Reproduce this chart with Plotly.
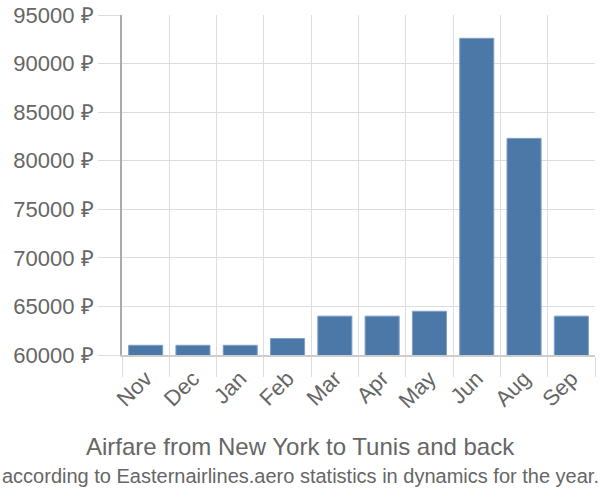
import plotly.graph_objects as go

months = ["Nov", "Dec", "Jan", "Feb", "Mar", "Apr", "May", "Jun", "Aug", "Sep"]
prices = [61000, 61000, 61000, 61700, 64000, 64000, 64500, 92600, 82300, 64000]
y_ticks = [60000, 65000, 70000, 75000, 80000, 85000, 90000, 95000]
y_labels = [f"{v} ₽" for v in y_ticks]

title = "Airfare from New York to Tunis and back"
subtitle = "according to Easternairlines.aero statistics in dynamics for the year."

fig = go.Figure(go.Bar(
    x=months, y=prices,
    marker=dict(color="#4c78a8", line=dict(color="#7f9fc6", width=1)),
    width=0.72,
))

font = "Liberation Sans, Arial, sans-serif"
fig.update_layout(
    width=600, height=500,
    margin=dict(l=122, r=5, t=15, b=145),
    paper_bgcolor="white", plot_bgcolor="white",
    showlegend=False,
    font=dict(family=font, color="#666666"),
    xaxis=dict(
        type="category", tickson="boundaries", automargin=False,
        showgrid=True, gridcolor="#dddddd", gridwidth=1,
        ticks="outside", ticklen=20, tickcolor="#dddddd",
        tickangle=-45, tickfont=dict(size=22, color="#666666"),
        showline=True, linecolor="#cccccc", linewidth=2,
        range=[-0.5, 9.5],
    ),
    yaxis=dict(
        range=[60000, 95000], automargin=False,
        tickvals=y_ticks, ticktext=y_labels,
        showgrid=True, gridcolor="#dddddd", gridwidth=1,
        ticks="outside", ticklen=22, tickcolor="#dddddd",
        tickfont=dict(size=22, color="#666666"),
        showline=True, linecolor="#aaaaaa", linewidth=2,
        zeroline=False,
    ),
    annotations=[
        dict(text=title, xref="paper", yref="paper", showarrow=False,
             font=dict(size=24, color="#666666")),
        dict(text=subtitle, xref="paper", yref="paper", showarrow=False,
             font=dict(size=20, color="#666666")),
    ],
)

# place annotations in pixel terms: convert to paper coordinates
plot_h = 500 - 15 - 145
for ann, ypix in zip(fig.layout.annotations, [446, 476]):
    ann.y = (500 - 145 - ypix) / plot_h
    ann.x = (300 - 122) / (600 - 122 - 5)
    ann.yanchor = "middle"
    ann.xanchor = "center"

fig.write_html("out.html")
